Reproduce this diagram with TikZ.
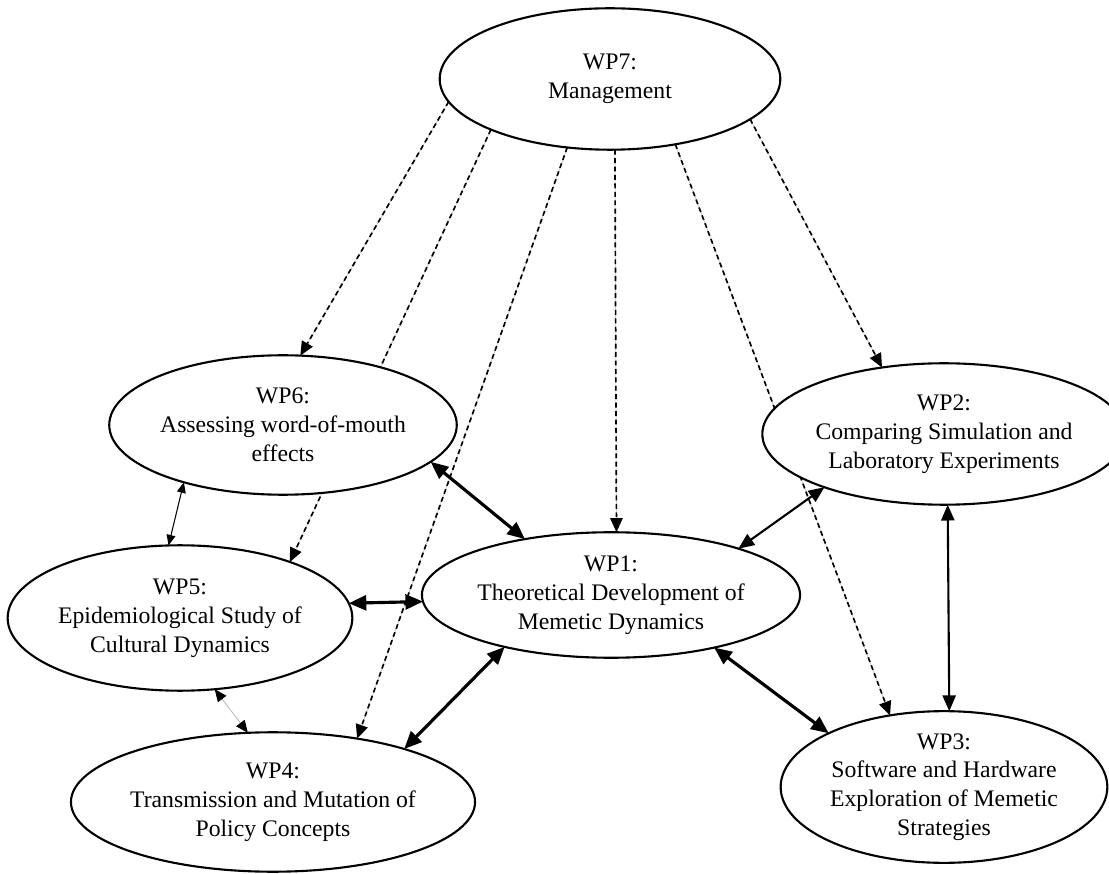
\documentclass[tikz,border=0pt]{standalone}
\usepackage{fontspec}
\setmainfont{Liberation Serif}
\usetikzlibrary{shapes.geometric,arrows.meta,backgrounds}
\begin{document}
\begin{tikzpicture}[x=0.02cm,y=-0.02cm,
  wp/.style={ellipse, draw, line width=1.2pt, fill=white, inner sep=0pt, outer sep=0pt,
    align=center, font=\fontsize{13.5}{16.4}\selectfont},
  sz/.style 2 args={minimum width=#1*0.5669pt, minimum height=#2*0.5669pt},
  mgmt/.style={line width=0.95pt, dash pattern=on 2.8pt off 2pt,
    -{Triangle[length=8pt,width=7pt]},
    preaction={draw=gray!55, line width=0.3pt, solid, arrows=-}},
  thickarr/.style={line width=1.8pt, {Triangle[length=10pt,width=8.5pt]}-{Triangle[length=10pt,width=8.5pt]}},
  medarr/.style={line width=1.2pt, {Triangle[length=9pt,width=7.5pt]}-{Triangle[length=9pt,width=7.5pt]}},
  thinarr/.style={line width=0.6pt, {Triangle[length=6pt,width=5pt]}-{Triangle[length=6pt,width=5pt]}},
  greyarr/.style={draw=gray!55, line width=0.5pt,
    {Triangle[length=7pt,width=6pt,color=black]}-{Triangle[length=7pt,width=6pt,color=black]}}
]
\useasboundingbox (0,0) rectangle (1109,874);

\node[wp, sz={342}{142}] (wp7) at (610,79) {WP7:\\Management};
\node[wp, sz={338}{140}] (wp6) at (283,425) {WP6:\\Assessing word-of-mouth\\effects};
\node[wp, sz={324}{142}] (wp2) at (944,434) {WP2:\\Comparing Simulation and\\Laboratory Experiments};
\node[wp, sz={338}{126}] (wp1) at (611,595) {WP1:\\Theoretical Development of\\Memetic Dynamics};
\node[wp, sz={336}{146}] (wp5) at (180,618) {WP5:\\Epidemiological Study of\\Cultural Dynamics};
\node[wp, sz={336}{140}] (wp4) at (273,802) {WP4:\\Transmission and Mutation of\\Policy Concepts};
\node[wp, sz={328}{136}] (wp3) at (944,787) {WP3:\\Software and Hardware\\Exploration of Memetic\\Strategies};

\begin{pgfonlayer}{background}
\draw[mgmt] (wp7.188.9) -- (wp6.76.3);
\draw[mgmt] (wp7.203) -- (wp5.27.8);
\draw[mgmt] (wp7.238) -- (wp4.37.6);
\draw[mgmt] (wp7.274.8) -- (wp1.85.5);
\draw[mgmt] (wp7.315.7) -- (wp3.127.6);
\draw[mgmt] (wp7.344.4) -- (wp2.133.2);
\end{pgfonlayer}

\draw[thickarr] (wp6.346) -- (wp1.147.9);
\draw[medarr] (wp2.204.8) -- (wp1.20.4);
\draw[thickarr] (wp5.5.6) -- (wp1.182.4);
\draw[thinarr] (wp6.210.6) -- (wp5.99.5);
\draw[greyarr] (wp5.296.6) -- (wp4.110.6);
\draw[thickarr] (wp1.206.7) -- (wp4.22.2);
\draw[thickarr] (wp1.333.8) -- (wp3.155.9);
\draw[medarr] (wp2.273.2) -- (wp3.86.6);
\end{tikzpicture}
\end{document}
